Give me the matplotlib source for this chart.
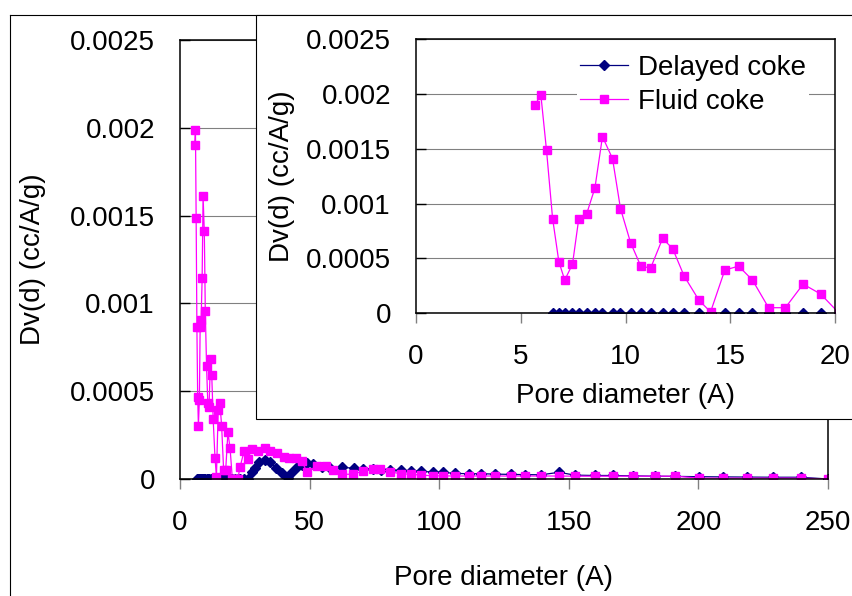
import matplotlib
matplotlib.use("Agg")
import matplotlib.pyplot as plt
from matplotlib.lines import Line2D
from matplotlib.patches import Rectangle

# ---------------- data ----------------
fluid_x = [5.68, 5.96, 6.23, 6.52, 6.82, 7.10, 7.47, 7.77, 8.14, 8.54, 8.90, 9.38, 9.76,
           10.24, 10.73, 11.20, 11.77, 12.25, 12.80, 13.50, 14.06, 14.74, 15.40, 16.06,
           16.83, 17.63, 18.48, 19.32, 20.2, 21.3, 22.3, 23.2, 24.7, 26.2, 27.7, 30.2,
           32.8, 34.7, 37.3, 40.2, 42.2, 44.9, 47.1, 48.9, 53.0, 56.5, 58.9, 62.6, 66.8,
           70.5, 74.4, 77.3, 81.2, 85.3, 89.1, 93.0, 97.6, 101.3, 106.1, 111.5, 116.0,
           121.5, 127.7, 133.1, 139.3, 146.2, 152.4, 160.1, 167.0, 174.7, 183.3, 191.0,
           200.4, 209.4, 218.6, 228.6, 239.5, 250.0]
fluid_y = [0.00190, 0.00199, 0.001485, 0.000864, 0.000469, 0.000303, 0.000448, 0.000864,
           0.000903, 0.001142, 0.00161, 0.00141, 0.000955, 0.000645, 0.00043, 0.000412,
           0.000682, 0.00059, 0.000339, 0.000121, 0.000012, 0.000394, 0.00043, 0.000303,
           0.000051, 0.000051, 0.000266, 0.000175, 0.0, 0.0, 0.0, 0.00007, 0.000157,
           0.000116, 0.00017, 0.000162, 0.000175, 0.00016, 0.00015, 0.000127, 0.00012,
           0.000117, 0.0001, 0.00004, 0.000076, 0.000075, 0.000053, 0.000027, 0.000027,
           0.000045, 0.000055, 0.000055, 0.00004, 0.00003, 0.000027, 0.000022, 0.000018,
           0.000018, 0.000017, 0.000017, 0.000017, 0.000017, 0.000017, 0.000017, 0.000017,
           0.000017, 0.000016, 0.000016, 0.000016, 0.000016, 0.000016, 0.000016, 0.000005,
           0.000005, 0.000005, 0.000005, 0.000005, 0.0]

delayed_x = [6.52, 6.82, 7.10, 7.47, 7.77, 8.14, 8.54, 8.90, 9.38, 9.76, 10.24, 10.73,
             11.20, 11.77, 12.25, 12.80, 13.50, 14.06, 14.74, 15.40, 16.06, 16.83, 17.63,
             18.48, 19.32, 20.2, 21.3, 22.3, 23.2, 24.7, 26.2, 27.7, 28.9, 30.6, 32.8,
             34.7, 37.1, 39.4, 41.5, 43.3, 45.0, 47.0, 48.9, 51.2, 54.7, 57.9, 62.4, 67.3,
             70.5, 74.4, 77.6, 81.2, 85.3, 89.1, 93.0, 97.6, 101.3, 106.1, 111.5, 116.0,
             121.5, 127.7, 133.1, 139.3, 146.2, 152.4, 160.1, 167.0, 174.7, 183.3, 191.0,
             200.4, 209.4, 218.6, 228.6, 239.5, 250.0]
delayed_y = [0.0] * 31 + [0.00004, 0.00006, 0.000095, 0.000106, 0.000095, 0.000063,
             0.000032, 0.000008, 0.00004, 0.000066, 0.000082, 0.00009, 0.000086, 0.00007,
             0.00006, 0.000068, 0.00006, 0.000058, 0.000055, 0.000052, 0.00005, 0.00005,
             0.000045, 0.000043, 0.00004, 0.000038, 0.000032, 0.00003, 0.00003, 0.000028,
             0.000026, 0.000025, 0.000024, 0.000038, 0.000022, 0.00002, 0.00002, 0.000018,
             0.000016, 0.000015, 0.000013, 0.000012, 0.000011, 0.00001, 0.00001, 0.0]

series_names = ["Delayed coke", "Fluid coke"]
y_ticks = [0, 0.0005, 0.001, 0.0015, 0.002, 0.0025]
y_tick_labels = ["0", "0.0005", "0.001", "0.0015", "0.002", "0.0025"]
main_x_ticks = [0, 50, 100, 150, 200, 250]
inset_x_ticks = [0, 5, 10, 15, 20]
x_label = "Pore diameter (A)"
y_label = "Dv(d) (cc/A/g)"

# ---------------- style ----------------
plt.rcParams['font.family'] = ['Liberation Sans', 'DejaVu Sans']
FS = 20
NAVY = '#000080'
MAG = '#FF00FF'
W, H = 852, 596


def fx(px):
    return px / W


def fy(py):
    return 1 - py / H


fig = plt.figure(figsize=(W / 100, H / 100), dpi=100)

# outer frame
fig.add_artist(Line2D([fx(10), fx(10)], [fy(15), fy(600)], color='black', lw=0.8, zorder=0.5))
fig.add_artist(Line2D([fx(10), fx(860)], [fy(15), fy(15)], color='black', lw=0.8, zorder=0.5))


def style_axes(ax, xticks, xmax, xlab_y, ylab_x):
    ax.set_xlim(0, xmax)
    ax.set_ylim(0, 0.0025)
    ax.set_xticks(xticks)
    ax.set_xticklabels([str(t) for t in xticks])
    ax.set_yticks(y_ticks)
    ax.set_yticklabels(y_tick_labels)
    ax.yaxis.grid(True, color='#808080', lw=0.8)
    ax.set_axisbelow(True)
    for s in ax.spines.values():
        s.set_color('black')
        s.set_linewidth(1.1)
    ax.tick_params(axis='y', direction='in', length=7, width=1, pad=18, labelsize=FS)
    ax.tick_params(axis='x', direction='out', length=7, width=1, pad=15, labelsize=FS,
                   color='#808080')
    ax.set_xlabel(x_label, fontsize=FS)
    ax.xaxis.set_label_coords(0.5, xlab_y)
    ax.xaxis.label.set_va('center')
    ax.set_ylabel(y_label, fontsize=FS)
    ax.yaxis.set_label_coords(ylab_x, 0.5)
    ax.yaxis.label.set_va('center')


def plot_series(ax):
    ax.plot(delayed_x, delayed_y, color=NAVY, lw=0.9, marker='D', ms=5,
            markerfacecolor=NAVY, markeredgecolor=NAVY, label=series_names[0])
    ax.plot(fluid_x, fluid_y, color=MAG, lw=0.9, marker='s', ms=5.5,
            markerfacecolor=MAG, markeredgecolor=MAG, label=series_names[1])


# main axes
ax = fig.add_axes([fx(180), fy(479), (828 - 180) / W, (479 - 40) / H], zorder=0)
plot_series(ax)
style_axes(ax, main_x_ticks, 250, (479 - 578) / 439, (33 - 180) / 648)

# inset frame
fig.add_artist(Rectangle((fx(256), fy(419)), fx(900) - fx(256), fy(15) - fy(419),
                         facecolor='white', edgecolor='black', lw=0.8, zorder=1))

# inset axes
ih = 313.3 - 39
ax2 = fig.add_axes([fx(416), fy(313.3), (835 - 416) / W, ih / H], zorder=2)
plot_series(ax2)
style_axes(ax2, inset_x_ticks, 20, (313.3 - 396) / ih, (282 - 416) / 419)

leg = ax2.legend(loc='upper left', bbox_to_anchor=(fx(577), fy(52)),
                 bbox_transform=fig.transFigure, fontsize=FS, frameon=True,
                 facecolor='white', edgecolor='none', framealpha=1, fancybox=False,
                 borderaxespad=0, borderpad=0.1, handlelength=1.75, handletextpad=0.35,
                 labelspacing=0.3)
leg.get_frame().set_linewidth(0)

fig.savefig('out.png', dpi=100)
